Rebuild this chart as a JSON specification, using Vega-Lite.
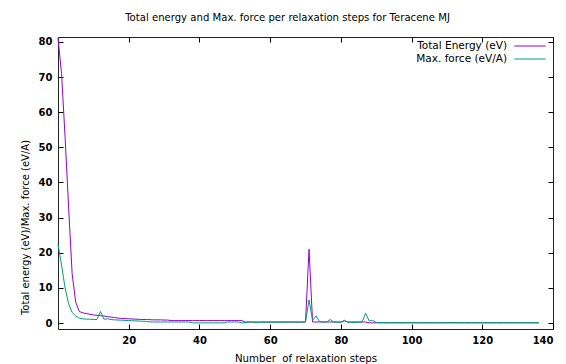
{
  "$schema": "https://vega.github.io/schema/vega-lite/v6.json",
  "width": 495,
  "height": 292,
  "autosize": "none",
  "padding": {"left": 58, "top": 37, "right": 13, "bottom": 35},
  "background": "white",
  "title": {
    "text": "Total energy and Max. force per relaxation steps for Teracene MJ",
    "font": "DejaVu Sans",
    "fontSize": 10.1,
    "fontWeight": "normal",
    "color": "#000",
    "anchor": "middle",
    "dx": -18,
    "offset": 12
  },
  "config": {
    "view": {"stroke": "#222", "strokeWidth": 1},
    "axis": {
      "grid": false,
      "domain": false,
      "tickColor": "#000",
      "tickSize": -5,
      "labelPadding": 11,
      "labelFont": "DejaVu Sans",
      "labelFontSize": 10,
      "labelFontWeight": "bold",
      "labelColor": "#000",
      "titleFont": "DejaVu Sans",
      "titleFontSize": 10,
      "titleFontWeight": "normal",
      "titleColor": "#000"
    }
  },
  "data": {
    "values": [
      {"step": 0, "E": 81.2, "F": 22.5},
      {"step": 1, "E": 71, "F": 16.5},
      {"step": 2, "E": 53, "F": 10},
      {"step": 3, "E": 33, "F": 5.5},
      {"step": 4, "E": 14, "F": 3},
      {"step": 5, "E": 6, "F": 2},
      {"step": 6, "E": 3.3, "F": 1.4},
      {"step": 7, "E": 2.9, "F": 1.2},
      {"step": 8, "E": 2.7, "F": 1.1},
      {"step": 9, "E": 2.5, "F": 1.1},
      {"step": 10, "E": 2.3, "F": 1.0},
      {"step": 11, "E": 2.2, "F": 1.0},
      {"step": 12, "E": 2.1, "F": 3.3},
      {"step": 13, "E": 2.0, "F": 1.1},
      {"step": 14, "E": 1.8, "F": 1.2},
      {"step": 15, "E": 1.7, "F": 1.0},
      {"step": 16, "E": 1.55, "F": 0.9},
      {"step": 17, "E": 1.4, "F": 0.85},
      {"step": 18, "E": 1.3, "F": 0.8},
      {"step": 19, "E": 1.25, "F": 0.75},
      {"step": 20, "E": 1.2, "F": 0.7},
      {"step": 21, "E": 1.15, "F": 0.65},
      {"step": 22, "E": 1.1, "F": 0.6},
      {"step": 23, "E": 1.05, "F": 0.55},
      {"step": 24, "E": 1.0, "F": 0.5},
      {"step": 25, "E": 1.0, "F": 0.45},
      {"step": 26, "E": 0.95, "F": 0.3},
      {"step": 27, "E": 0.9, "F": 0.3},
      {"step": 28, "E": 0.9, "F": 0.3},
      {"step": 29, "E": 0.9, "F": 0.3},
      {"step": 30, "E": 0.85, "F": 0.3},
      {"step": 31, "E": 0.85, "F": 0.3},
      {"step": 32, "E": 0.7, "F": 0.3},
      {"step": 33, "E": 0.7, "F": 0.3},
      {"step": 34, "E": 0.7, "F": 0.3},
      {"step": 35, "E": 0.7, "F": 0.3},
      {"step": 36, "E": 0.7, "F": 0.3},
      {"step": 37, "E": 0.7, "F": 0.3},
      {"step": 38, "E": 0.7, "F": 0.05},
      {"step": 39, "E": 0.7, "F": 0.05},
      {"step": 40, "E": 0.7, "F": 0.05},
      {"step": 41, "E": 0.7, "F": 0.05},
      {"step": 42, "E": 0.7, "F": 0.05},
      {"step": 43, "E": 0.7, "F": 0.05},
      {"step": 44, "E": 0.7, "F": 0.05},
      {"step": 45, "E": 0.7, "F": 0.05},
      {"step": 46, "E": 0.7, "F": 0.05},
      {"step": 47, "E": 0.7, "F": 0.05},
      {"step": 48, "E": 0.7, "F": 0.3},
      {"step": 49, "E": 0.7, "F": 0.3},
      {"step": 50, "E": 0.7, "F": 0.3},
      {"step": 51, "E": 0.7, "F": 0.3},
      {"step": 52, "E": 0.7, "F": 0.05},
      {"step": 53, "E": 0.3, "F": 0.05},
      {"step": 54, "E": 0.3, "F": 0.3},
      {"step": 55, "E": 0.3, "F": 0.3},
      {"step": 56, "E": 0.3, "F": 0.05},
      {"step": 57, "E": 0.3, "F": 0.25},
      {"step": 58, "E": 0.3, "F": 0.25},
      {"step": 59, "E": 0.3, "F": 0.2},
      {"step": 60, "E": 0.3, "F": 0.25},
      {"step": 61, "E": 0.3, "F": 0.2},
      {"step": 62, "E": 0.3, "F": 0.25},
      {"step": 63, "E": 0.3, "F": 0.25},
      {"step": 64, "E": 0.3, "F": 0.2},
      {"step": 65, "E": 0.3, "F": 0.25},
      {"step": 66, "E": 0.3, "F": 0.3},
      {"step": 67, "E": 0.3, "F": 0.25},
      {"step": 68, "E": 0.3, "F": 0.2},
      {"step": 69, "E": 0.3, "F": 0.25},
      {"step": 70, "E": 0.3, "F": 0.3},
      {"step": 71, "E": 21, "F": 6.6},
      {"step": 72, "E": 0.3, "F": 0.8},
      {"step": 73, "E": 0.3, "F": 2.0},
      {"step": 74, "E": 0.3, "F": 0.4},
      {"step": 75, "E": 0.3, "F": 0.3},
      {"step": 76, "E": 0.3, "F": 0.3},
      {"step": 77, "E": 0.3, "F": 1.0},
      {"step": 78, "E": 0.3, "F": 0.3},
      {"step": 79, "E": 0.3, "F": 0.2},
      {"step": 80, "E": 0.3, "F": 0.2},
      {"step": 81, "E": 0.6, "F": 0.8},
      {"step": 82, "E": 0.3, "F": 0.2},
      {"step": 83, "E": 0.3, "F": 0.2},
      {"step": 84, "E": 0.3, "F": 0.2},
      {"step": 85, "E": 0.3, "F": 0.2},
      {"step": 86, "E": 0.3, "F": 0.3},
      {"step": 87, "E": 0.3, "F": 2.8},
      {"step": 88, "E": 0.05, "F": 0.6},
      {"step": 89, "E": 0.05, "F": 0.7},
      {"step": 90, "E": 0.05, "F": 0.2},
      {"step": 91, "E": 0.05, "F": 0.1},
      {"step": 92, "E": 0.05, "F": 0.15},
      {"step": 93, "E": 0.05, "F": 0.1},
      {"step": 94, "E": 0.05, "F": 0.1},
      {"step": 95, "E": 0.05, "F": 0.15},
      {"step": 96, "E": 0.05, "F": 0.1},
      {"step": 97, "E": 0.05, "F": 0.1},
      {"step": 98, "E": 0.05, "F": 0.1},
      {"step": 99, "E": 0.05, "F": 0.15},
      {"step": 100, "E": 0.05, "F": 0.1},
      {"step": 101, "E": 0.05, "F": 0.1},
      {"step": 102, "E": 0.05, "F": 0.1},
      {"step": 103, "E": 0.05, "F": 0.1},
      {"step": 104, "E": 0.05, "F": 0.1},
      {"step": 105, "E": 0.05, "F": 0.1},
      {"step": 106, "E": 0.05, "F": 0.1},
      {"step": 107, "E": 0.05, "F": 0.1},
      {"step": 108, "E": 0.05, "F": 0.1},
      {"step": 109, "E": 0.05, "F": 0.1},
      {"step": 110, "E": 0.05, "F": 0.1},
      {"step": 111, "E": 0.05, "F": 0.1},
      {"step": 112, "E": 0.05, "F": 0.15},
      {"step": 113, "E": 0.05, "F": 0.1},
      {"step": 114, "E": 0.05, "F": 0.1},
      {"step": 115, "E": 0.05, "F": 0.1},
      {"step": 116, "E": 0.05, "F": 0.1},
      {"step": 117, "E": 0.05, "F": 0.1},
      {"step": 118, "E": 0.05, "F": 0.1},
      {"step": 119, "E": 0.05, "F": 0.1},
      {"step": 120, "E": 0.05, "F": 0.1},
      {"step": 121, "E": 0.05, "F": 0.1},
      {"step": 122, "E": 0.05, "F": 0.1},
      {"step": 123, "E": 0.05, "F": 0.1},
      {"step": 124, "E": 0.05, "F": 0.1},
      {"step": 125, "E": 0.05, "F": 0.1},
      {"step": 126, "E": 0.05, "F": 0.1},
      {"step": 127, "E": 0.05, "F": 0.1},
      {"step": 128, "E": 0.05, "F": 0.1},
      {"step": 129, "E": 0.05, "F": 0.1},
      {"step": 130, "E": 0.05, "F": 0.1},
      {"step": 131, "E": 0.05, "F": 0.1},
      {"step": 132, "E": 0.05, "F": 0.1},
      {"step": 133, "E": 0.05, "F": 0.1},
      {"step": 134, "E": 0.05, "F": 0.1},
      {"step": 135, "E": 0.05, "F": 0.1},
      {"step": 136, "E": 0.05, "F": 0.1}
    ]
  },
  "transform": [{"fold": ["E", "F"], "as": ["series", "value"]}],
  "resolve": {"axis": {"x": "independent", "y": "independent"}},
  "layer": [
    {
      "mark": {"type": "line", "strokeWidth": 1, "interpolate": "linear"},
      "encoding": {
        "x": {
          "field": "step", "type": "quantitative",
          "scale": {"domain": [0, 140], "nice": false, "zero": false},
          "axis": {"orient": "bottom", "values": [20, 40, 60, 80, 100, 120, 140], "title": "Number\u00a0 of relaxation steps", "titleFontSize": 10.2, "titlePadding": 8}
        },
        "y": {
          "field": "value", "type": "quantitative",
          "scale": {"domain": [-1.7, 81.4], "nice": false, "zero": false},
          "axis": {"orient": "left", "values": [0, 10, 20, 30, 40, 50, 60, 70, 80], "title": "Total energy (eV)/Max. force (eV/A)", "titleX": -33, "titleY": 190, "titleAngle": -90, "titleAlign": "center", "titleBaseline": "middle"}
        },
        "color": {
          "field": "series", "type": "nominal",
          "scale": {"domain": ["E", "F"], "range": ["#9400d3", "#009e73"]},
          "legend": {
            "orient": "none", "legendX": 466, "legendY": 3,
            "title": null,
            "symbolType": "M-3,0H3", "symbolSize": 110, "symbolStrokeWidth": 1,
            "labelAlign": "right", "labelOffset": -29,
            "labelFont": "DejaVu Sans", "labelFontSize": 10.5, "labelFontWeight": "normal", "labelColor": "#000",
            "rowPadding": 1,
            "labelExpr": "datum.label == 'E' ? 'Total Energy (eV)' : 'Max. force (eV/A)'"
          }
        },
        "order": {"field": "step", "type": "quantitative"}
      }
    },
    {
      "mark": {"type": "point", "opacity": 0},
      "encoding": {
        "x": {
          "field": "step", "type": "quantitative",
          "axis": {"orient": "top", "values": [20, 40, 60, 80, 100, 120, 140], "labels": false, "title": null}
        },
        "y": {
          "field": "value", "type": "quantitative",
          "axis": {"orient": "right", "values": [0, 10, 20, 30, 40, 50, 60, 70, 80], "labels": false, "title": null}
        }
      }
    }
  ]
}
